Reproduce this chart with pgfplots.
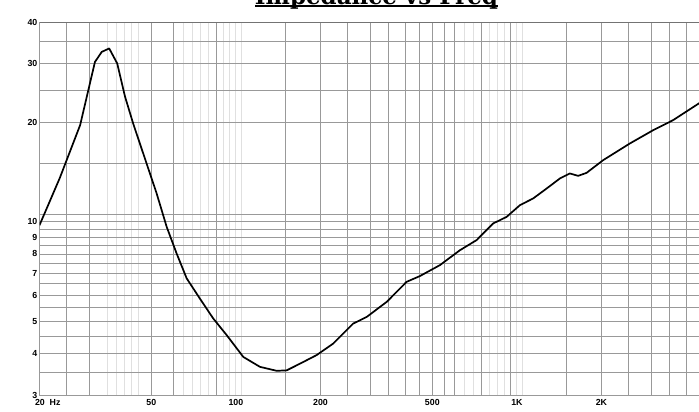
\documentclass[border=0pt]{standalone}
\usepackage{fontspec}
\setmainfont{Liberation Sans}
\newfontfamily\titlefont{DejaVu Serif}
\usepackage{graphicx}
\usepackage{pgfplots}
\pgfplotsset{compat=1.18}
\definecolor{gmed}{gray}{0.60}
\definecolor{gfaint}{gray}{0.88}
\definecolor{gdark}{gray}{0.45}
\begin{document}
\begin{tikzpicture}[x=1pt,y=1pt]
\useasboundingbox (0,0) rectangle (699,412);
\clip (0,0) rectangle (699,412);
\begin{axis}[
  at={(39.5pt,17pt)}, anchor=south west,
  scale only axis, width=673.8pt, height=372.5pt,
  xmode=log, ymode=log,
  xmin=20, xmax=5000, ymin=3, ymax=40,
  xtick={20,50,100,200,500,1000,2000},
  xticklabels={\makebox[0pt][l]{\hspace{-4.5pt}20\ \ Hz},50,100,200,500,1K,2K},
  ytick={3,4,5,6,7,8,9,10,20,30,40},
  yticklabels={3,4,5,6,7,8,9,10,20,30,40},
  minor xtick={35,37.5,40,42.5,45,65,70,75,80,90,95,100,105,650,700,800,850,900,1000,1050},
  extra x ticks={25,30,50,60,85,150,200,250,300,350,400,450,500,550,600,750,950,1500,2000,2500,3000,3500,4000},
  extra y ticks={3.5,4.5,5.5,6.5,7.5,8.5,9.5,10.5,15,25,35},
  extra x tick labels={}, extra y tick labels={},
  xmajorgrids=false, xminorgrids=true, ymajorgrids=true, yminorgrids=false,
  major grid style={gmed, line width=0.8pt},
  minor grid style={gfaint, line width=0.9pt},
  extra tick style={grid=major, major grid style={gmed, line width=0.8pt}, major tick length=0pt, tick style={draw=none}},
  major tick length=0pt, minor tick length=0pt, tick style={draw=none},
  axis line style={gmed, line width=0.9pt},
  /pgf/number format/assume math mode=true,
  ticklabel style={font=\bfseries\fontsize{8.8}{8.8}\selectfont},
  xticklabel style={anchor=north, inner sep=0pt, yshift=-4.5pt},
  yticklabel style={anchor=east, inner sep=0pt, xshift=-2pt},
]
\addplot[black, line width=1.7pt, line join=round] coordinates {
(20,9.77) (23.6,13.55) (27.9,19.6) (31.5,30.4) (33.3,32.6) (35.4,33.4)
(37.8,30.1) (40.3,23.9) (43.1,19.8) (48.1,15.0) (52.2,12.2) (56.7,9.66)
(61.5,8.03) (66.8,6.75) (74.4,5.87) (83.0,5.11) (92.7,4.55) (106.2,3.91)
(121.7,3.65) (139.6,3.55) (151.5,3.56) (169,3.73) (193.8,3.96) (222,4.29)
(261.5,4.93) (291.8,5.16) (343.9,5.73) (405,6.59) (451.6,6.86) (532,7.40)
(627,8.21) (719,8.81) (823,9.89) (919,10.35) (1025,11.23) (1143,11.77)
(1276,12.61) (1422,13.52) (1544,14.0) (1652,13.77) (1770,14.06) (2028,15.36)
(2524,17.25) (3056,18.92) (3599,20.29) (4444,22.79) (4700,23.6)
};
\draw[gdark, line width=1.6pt] (rel axis cs:0,1) -- (rel axis cs:1,1);
\node[anchor=south west, inner sep=0pt, font=\bfseries\fontsize{8}{8}\selectfont]
  at (rel axis cs:0,1) [xshift=3pt, yshift=6pt] {Ohm};
\end{axis}
\node[anchor=base, inner sep=0pt] at (376.5,407)
  {\resizebox{243pt}{!}{\titlefont\bfseries Impedance vs Freq}};
\fill[black] (255,405) rectangle (498,406.8);
\end{tikzpicture}
\end{document}
